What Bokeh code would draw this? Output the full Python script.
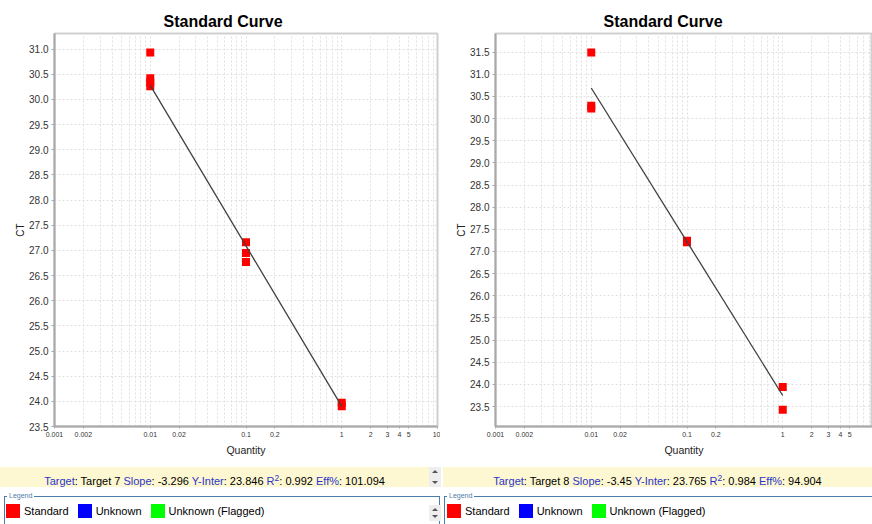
from bokeh.plotting import figure
from bokeh.models import FixedTicker, Range1d, Div, NumeralTickFormatter
from bokeh.layouts import row, column
from bokeh.embed import file_html
from bokeh.resources import INLINE

# ---------------- data ----------------
left_qty = [0.01, 0.01, 0.01, 0.01, 0.1, 0.1, 0.1, 1, 1]
left_ct = [30.93, 30.42, 30.34, 30.26, 27.16, 26.95, 26.77, 23.97, 23.90]
left_fit_qty = [0.01, 1]
left_fit_ct = [30.28, 23.90]

right_qty = [0.01, 0.01, 0.01, 0.1, 0.1, 1, 1]
right_ct = [31.49, 30.29, 30.23, 27.24, 27.21, 23.94, 23.43]
right_fit_qty = [0.01, 1]
right_fit_ct = [30.69, 23.75]

targets = ["Target 7", "Target 8"]
slopes = [-3.296, -3.45]
intercepts = [23.846, 23.765]
r_squared = [0.992, 0.984]
efficiency = [101.094, 94.904]

legend_labels = ["Standard", "Unknown", "Unknown (Flagged)"]
legend_colors = ["#ff0000", "#0000ff", "#00ff00"]

grid_x_ticks = [m * 10.0 ** e for e in (-3, -2, -1, 0) for m in range(1, 10)] + [10.0]
label_x_ticks = [0.001, 0.002, 0.01, 0.02, 0.1, 0.2, 1, 2, 3, 4, 5, 10]
label_x_text = ["0.001", "0.002", "0.01", "0.02", "0.1", "0.2", "1", "2", "3", "4", "5", "10"]
left_y_ticks = [23.5 + 0.5 * i for i in range(16)]
right_y_ticks = [23.5 + 0.5 * i for i in range(17)]

FONT = "Liberation Sans"
BLUE = "#2b35c8"


def make_fig(qty, ct, fqty, fct, width, x_end, y_start, y_end, y_ticks,
             b_left, b_right, title_offset):
    p = figure(width=width, height=460, x_axis_type="log",
               x_range=Range1d(0.001, x_end), y_range=Range1d(y_start, y_end),
               output_backend="svg", toolbar_location=None,
               min_border_left=b_left, min_border_right=b_right,
               min_border_top=33, min_border_bottom=34,
               background_fill_color="white", border_fill_color="white")
    p.title.text = "Standard Curve"
    p.title.align = "left"
    p.title.offset = title_offset
    p.title.text_font = FONT
    p.title.text_font_size = "16px"
    p.title.text_font_style = "bold"
    p.title.text_color = "#000000"
    p.title.standoff = 7

    p.outline_line_color = "#d0d0d0"
    p.outline_line_width = 2

    p.xaxis.ticker = FixedTicker(ticks=label_x_ticks, minor_ticks=[])
    p.xaxis.major_label_overrides = {t: s for t, s in zip(label_x_ticks, label_x_text)}
    p.xgrid.ticker = FixedTicker(ticks=grid_x_ticks, minor_ticks=[])
    p.yaxis.ticker = FixedTicker(ticks=y_ticks, minor_ticks=[])
    p.yaxis.formatter = NumeralTickFormatter(format="0.0")

    for ax in (p.xaxis[0], p.yaxis[0]):
        ax.axis_line_color = "#a8a8a8"
        ax.axis_line_width = 2
        ax.major_tick_line_color = "#a8a8a8"
        ax.major_tick_in = 0
        ax.minor_tick_line_color = None
        ax.major_label_text_font = FONT
        ax.major_label_text_color = "#333333"
        ax.axis_label_text_font = FONT
        ax.axis_label_text_font_style = "normal"
        ax.axis_label_text_color = "#222222"
    p.xaxis.major_tick_out = 2
    p.xaxis.major_label_standoff = 3
    p.xaxis.major_label_text_font_size = "7px"
    p.xaxis.axis_label = "Quantity"
    p.xaxis.axis_label_text_font_size = "10.5px"
    p.xaxis.axis_label_standoff = 4
    p.yaxis.major_tick_out = 3
    p.yaxis.major_label_standoff = 3
    p.yaxis.major_label_text_font_size = "10px"
    p.yaxis.axis_label = "CT"
    p.yaxis.axis_label_text_font_size = "10px"
    p.yaxis.axis_label_standoff = 0

    for g in (p.xgrid[0], p.ygrid[0]):
        g.grid_line_color = "#e0e0e0"
        g.grid_line_dash = "2 2"
        g.grid_line_width = 1

    p.scatter(qty, ct, marker="square", size=8, fill_color="#ff0000", line_color=None)
    p.line(fqty, fct, line_color="#404040", line_width=1.3)
    return p


p1 = make_fig(left_qty, left_ct, left_fit_qty, left_fit_ct, 440, 10.0,
              23.5, 31.31, left_y_ticks, 54, 3, 109)
p2 = make_fig(right_qty, right_ct, right_fit_qty, right_fit_ct, 432,
              10 ** (-3 + 377 / 95.75), 23.05, 31.92, right_y_ticks, 55, 0, 108)


def stats_block(left, width, i):
    lab = lambda s: f'<span style="color:{BLUE}">{s}</span>'
    txt = (f'{lab("Target")}: {targets[i]} {lab("Slope")}: {slopes[i]} '
           f'{lab("Y-Inter")}: {intercepts[i]} '
           f'{lab("R")}<span style="color:{BLUE};font-size:8.5px;position:relative;top:-4px;">2</span>: {r_squared[i]} '
           f'{lab("Eff%")}: {efficiency[i]}')
    return (f'<div style="position:absolute;left:{left}px;top:7px;width:{width}px;height:20px;'
            f'background:#fdf8d2;overflow:hidden;">'
            f'<div style="position:absolute;left:0;top:9px;width:{width}px;text-align:center;'
            f'font-size:11px;line-height:11px;white-space:nowrap;color:#000;">{txt}</div></div>')


def scroller(left, top, h):
    return (f'<div style="position:absolute;left:{left}px;top:{top}px;width:12px;height:{h}px;background:#eeeeee;">'
            f'<div style="position:absolute;left:3px;top:3px;width:0;height:0;border-left:3px solid transparent;'
            f'border-right:3px solid transparent;border-bottom:3px solid #555;"></div>'
            f'<div style="position:absolute;left:3px;top:{h-6}px;width:0;height:0;border-left:3px solid transparent;'
            f'border-right:3px solid transparent;border-top:3px solid #555;"></div></div>')


def legend_block(box_left, box_width, items_left):
    items = "".join(
        f'<span style="display:inline-block;width:14px;height:14px;background:{c};vertical-align:top;margin-right:4px;"></span>'
        f'<span style="display:inline-block;height:14px;line-height:15px;vertical-align:top;margin-right:9px;">{t}</span>'
        for t, c in zip(legend_labels, legend_colors))
    return (f'<div style="position:absolute;left:{box_left}px;top:36px;width:{box_width}px;height:60px;'
            f'border:1px solid #4d7cab;"></div>'
            f'<div style="position:absolute;left:{box_left+3}px;top:32px;padding:0 2px;background:#fff;'
            f'font-size:7px;line-height:8px;color:#4d7cab;">Legend</div>'
            f'<div style="position:absolute;left:{items_left}px;top:44px;white-space:nowrap;font-size:11px;color:#000;">{items}</div>')


html = (f'<div style="position:relative;width:872px;height:64px;overflow:hidden;'
        f'font-family:\'{FONT}\',Arial,sans-serif;background:#fff;">'
        + stats_block(0, 429, 0) + scroller(429, 7, 20)
        + stats_block(443, 429, 1)
        + legend_block(4, 436, 6) + scroller(429, 45, 16)
        + legend_block(444, 440, 447)
        + '</div>')

lower = Div(text=html, width=872, height=64, styles={"margin": "0", "padding": "0"})

layout = column(row(p1, p2, spacing=0), lower, spacing=0,
                styles={"position": "absolute", "left": "0px", "top": "0px"})

open("out.html", "w").write(file_html(layout, INLINE))
